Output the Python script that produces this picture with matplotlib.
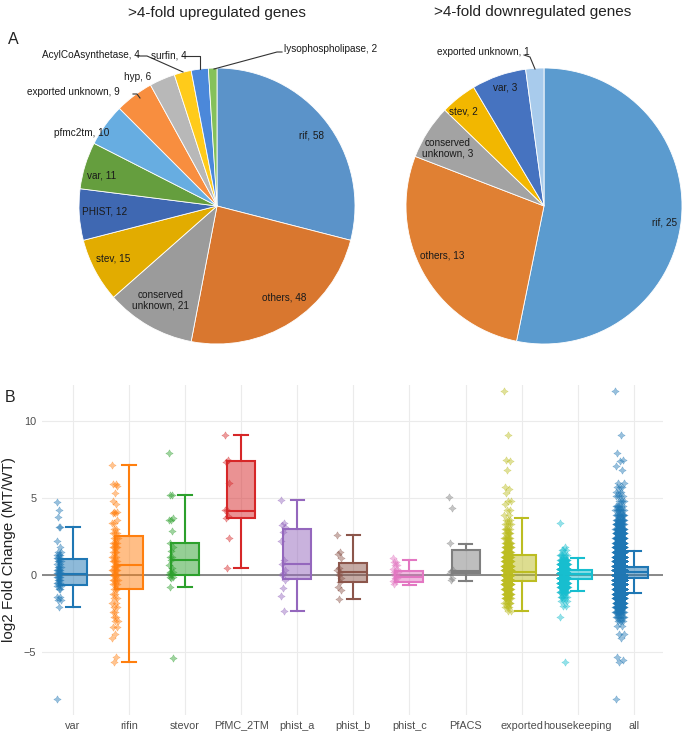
import numpy as np
import matplotlib
matplotlib.use("Agg")
import matplotlib.pyplot as plt

plt.rcParams['font.family'] = ['Liberation Sans', 'DejaVu Sans']

# ---------------- Panel A data ----------------
up_title = ">4-fold upregulated genes"
up_labels = ["rif", "others", "conserved\nunknown", "stev", "PHIST", "var", "pfmc2tm",
             "exported unknown", "hyp", "AcylCoAsynthetase", "surfin", "lysophospholipase"]
up_counts = [58, 48, 21, 15, 12, 11, 10, 9, 6, 4, 4, 2]
up_colors = ["#5B93C9", "#D9772F", "#9B9B9B", "#E2AC00", "#3F68B2", "#659E3E",
             "#67ADE1", "#F88E3F", "#B8B8B8", "#FFCB1A", "#4B88DA", "#85C15A"]

down_title = ">4-fold downregulated genes"
down_labels = ["rif", "others", "conserved\nunknown", "stev", "var", "exported unknown"]
down_counts = [25, 13, 3, 2, 3, 1]
down_colors = ["#5B9BCF", "#E08033", "#A3A3A3", "#F2B700", "#4673C0", "#A8CBEC"]

# ---------------- Panel B data ----------------
categories = ["var", "rifin", "stevor", "PfMC_2TM", "phist_a", "phist_b", "phist_c",
              "PfACS", "exported", "housekeeping", "all"]
cat_colors = ["#1f77b4", "#ff7f0e", "#2ca02c", "#d62728", "#9467bd", "#8c564b",
              "#e377c2", "#7f7f7f", "#bcbd22", "#17becf", "#1f77b4"]
box_q1 = [-0.67, -0.91, 0.0, 3.68, -0.26, -0.45, -0.45, 0.11, -0.37, -0.26, -0.17]
box_med = [0.09, 0.65, 0.97, 4.18, 0.69, 0.17, -0.11, 0.28, 0.22, 0.04, 0.17]
box_q3 = [1.04, 2.53, 2.10, 7.40, 2.99, 0.78, 0.26, 1.62, 1.32, 0.35, 0.54]
whis_lo = [-2.06, -5.63, -0.76, 0.48, -2.32, -1.56, -0.65, -0.37, -2.32, -1.06, -1.15]
whis_hi = [3.14, 7.14, 5.17, 9.07, 4.87, 2.60, 0.97, 2.03, 3.68, 1.10, 1.54]

var_levels = [4.76, 4.22, 3.74, 3.14, 2.2, 1.84, 1.5, 1.3, 1.1, 0.9, 0.7, 0.5, 0.3, 0.1,
              -0.1, -0.3, -0.5, -0.7, -0.9, -1.4, -1.6, -2.06, -8.07]
var_counts = [1, 1, 1, 2, 1, 1, 2, 3, 3, 3, 2, 3, 4, 5, 4, 3, 3, 3, 2, 2, 2, 1, 1]
rifin_levels = [7.14, 5.9, 5.8, 5.3, 4.8, 4.6, 4.1, 4.0, 3.6, 3.35, 3.0, 2.7, 2.4, 2.1,
                1.8, 1.5, 1.2, 0.9, 0.6, 0.3, 0.0, -0.3, -0.6, -0.9, -1.2, -1.5, -1.8,
                -2.1, -2.4, -2.7, -3.0, -3.35, -3.8, -4.1, -5.3, -5.63]
rifin_counts = [1, 2, 1, 1, 1, 1, 2, 2, 1, 2, 2, 3, 3, 4, 4, 3, 3, 4, 4, 5, 5, 4, 3, 3,
                2, 2, 2, 2, 2, 2, 2, 2, 1, 1, 1, 1]
stevor_levels = [7.94, 5.19, 3.68, 3.57, 2.86, 2.1, 1.84, 1.55, 1.2, 0.97, 0.65, 0.43,
                 0.2, 0.05, -0.1, -0.2, -0.76, -5.37]
stevor_counts = [1, 2, 1, 2, 1, 1, 1, 1, 2, 1, 1, 1, 2, 3, 2, 1, 1, 1]
pfmc_levels = [9.07, 7.47, 7.36, 5.95, 4.22, 3.83, 3.68, 2.38, 0.48]
pfmc_counts = [1, 1, 1, 1, 2, 1, 1, 1, 1]
phista_levels = [4.87, 3.35, 3.25, 3.14, 2.81, 2.2, 0.97, 0.69, 0.3, 0.15, 0.0, -0.32,
                 -0.87, -1.36, -2.32]
phista_counts = [1] * 15
phistb_levels = [2.6, 1.52, 1.36, 1.08, 0.43, 0.3, 0.17, 0.0, -0.2, -0.43, -0.76, -0.97, -1.56]
phistb_counts = [1] * 13
phistc_levels = [1.08, 0.87, 0.65, 0.4, 0.2, 0.0, -0.2, -0.4, -0.6]
phistc_counts = [1, 2, 2, 2, 2, 2, 2, 2, 1]
pfacs_levels = [5.04, 4.33, 2.06, 0.32, 0.25, 0.15, -0.22, -0.32]
pfacs_counts = [1] * 8
exported_levels = [11.95, 9.09, 7.45, 7.4, 6.82, 5.7, 5.6, 5.3, 4.83, 4.6, 4.22, 3.9, 3.6,
                   3.3, 3.0, 2.7, 2.4, 2.1, 1.8, 1.5, 1.2, 0.9, 0.6, 0.3, 0.0, -0.3, -0.6,
                   -0.9, -1.2, -1.5, -1.8, -2.1, -2.35]
exported_counts = [1, 1, 1, 1, 1, 1, 1, 1, 2, 1, 2, 2, 3, 4, 5, 6, 8, 10, 14, 18, 25, 35,
                   45, 55, 60, 50, 40, 25, 15, 10, 6, 4, 2]
house_levels = [3.35, 1.84, 1.6, 1.3, 1.0, 0.7, 0.4, 0.1, -0.2, -0.5, -0.8, -1.1, -1.4,
                -1.7, -2.0, -2.7, -5.63]
house_counts = [1, 1, 3, 6, 15, 40, 80, 120, 100, 60, 30, 12, 6, 3, 2, 1, 1]
all_levels = [11.95, 9.09, 7.94, 7.5, 7.4, 7.1, 6.82, 5.95, 5.7, 5.4, 5.1, 4.8, 4.5, 4.2,
              3.9, 3.6, 3.3, 3.0, 2.7, 2.4, 2.1, 1.8, 1.5, 1.2, 0.9, 0.6, 0.3, 0.0, -0.3,
              -0.6, -0.9, -1.2, -1.5, -1.8, -2.1, -2.4, -2.7, -3.0, -3.3, -3.8, -4.1, -5.3,
              -5.5, -5.63, -8.07]
all_counts = [1, 1, 1, 1, 1, 1, 1, 2, 3, 3, 4, 4, 6, 8, 10, 12, 15, 20, 25, 35, 50, 70,
              100, 150, 250, 400, 600, 700, 550, 350, 200, 120, 70, 40, 25, 15, 8, 4, 2,
              2, 1, 1, 1, 1, 1]

point_levels = [var_levels, rifin_levels, stevor_levels, pfmc_levels, phista_levels,
                phistb_levels, phistc_levels, pfacs_levels, exported_levels, house_levels,
                all_levels]
point_counts = [var_counts, rifin_counts, stevor_counts, pfmc_counts, phista_counts,
                phistb_counts, phistc_counts, pfacs_counts, exported_counts, house_counts,
                all_counts]
jitter_half = [0.04, 0.05, 0.04, 0.04, 0.04, 0.04, 0.05, 0.04, 0.06, 0.07, 0.08]

# ---------------- figure ----------------
W, H = 685, 734
fig = plt.figure(figsize=(W / 100, H / 100), dpi=100)

# Panel A: overlay axes in pixel coordinates (y up)
axA = fig.add_axes([0, 0.45, 1, 0.55])
def py(y):
    return H - y

text_col = "#1a1a1a"

def draw_pie(values, colors, center):
    axA.pie(values, colors=colors, startangle=90, counterclock=False,
            center=center, radius=138,
            wedgeprops=dict(edgecolor="white", linewidth=0.6))

draw_pie(up_counts, up_colors, (217, py(206)))
draw_pie(down_counts, down_colors, (544, py(206)))
axA.set_aspect('auto')
axA.set_xlim(0, W)
axA.set_ylim(H - 0.55 * H, H)
axA.axis('off')

axA.text(217, py(13), up_title, ha='center', va='center', fontsize=11, color="#222222")
axA.text(533, py(12), down_title, ha='center', va='center', fontsize=11, color="#222222")
axA.text(8, py(40), "A", ha='left', va='center', fontsize=11.5, color="#222222")

fs = 7.2
up_pos = [(312, 136), (284, 298), (161, 300), (113, 259), (105, 212), (102, 175),
          (82, 133), (73, 92), (138, 77), (91, 55), (169, 55), (331, 49)]
for lab, cnt, (x, y) in zip(up_labels, up_counts, up_pos):
    axA.text(x, py(y), f"{lab}, {cnt}", ha='center', va='center', fontsize=fs,
             color=text_col, linespacing=1.1)
down_pos = [(665, 223), (442, 256), (448, 148), (463, 111), (505, 88), (483, 52)]
for lab, cnt, (x, y) in zip(down_labels, down_counts, down_pos):
    axA.text(x, py(y), f"{lab}, {cnt}", ha='center', va='center', fontsize=fs,
             color=text_col, linespacing=1.1)

# leader lines
leaders = [
    [(133, 94), (137, 94), (140, 98)],
    [(137, 56), (147, 56), (183, 72)],
    [(182, 56), (200, 56), (200, 69)],
    [(282, 52), (277, 52), (214, 69)],
    [(524, 55), (530, 57), (535, 69)],
]
for pts in leaders:
    xs = [p[0] for p in pts]
    ys = [py(p[1]) for p in pts]
    axA.plot(xs, ys, color="#333333", lw=0.8)

# Panel B
axB = fig.add_axes([42 / W, (H - 715) / H, 621 / W, 330 / H])
for s in axB.spines.values():
    s.set_visible(False)
axB.set_axisbelow(True)
axB.grid(True, color="#EBEBEB", lw=0.8)
axB.axhline(0, color="#808080", lw=1.3, zorder=1.5)

stats = []
for i in range(len(categories)):
    stats.append(dict(med=box_med[i], q1=box_q1[i], q3=box_q3[i],
                      whislo=whis_lo[i], whishi=whis_hi[i], fliers=[]))
bp = axB.bxp(stats, positions=list(range(len(categories))), widths=0.5,
             patch_artist=True, showfliers=False, capwidths=0.24, manage_ticks=False)
for i, c in enumerate(cat_colors):
    bp['boxes'][i].set_facecolor(matplotlib.colors.to_rgba(c, 0.5))
    bp['boxes'][i].set_edgecolor(c)
    bp['boxes'][i].set_linewidth(1.5)
    bp['medians'][i].set_color(c)
    bp['medians'][i].set_linewidth(1.5)
    for w in bp['whiskers'][2 * i:2 * i + 2]:
        w.set_color(c); w.set_linewidth(1.5)
    for cp in bp['caps'][2 * i:2 * i + 2]:
        cp.set_color(c); cp.set_linewidth(1.5)

golden = 0.6180339887
for i, (lv, ct) in enumerate(zip(point_levels, point_counts)):
    ys = np.repeat(lv, ct)
    n = len(ys)
    offs = ((np.arange(n) * golden) % 1.0) * 2 - 1
    xs = i - 0.25 + jitter_half[i] * offs
    axB.scatter(xs, ys, s=28, marker=(4, 1, 0), color=cat_colors[i], alpha=0.45,
                linewidths=0.4, edgecolors=cat_colors[i], zorder=3)

axB.set_xlim(-0.55, 10.52)
axB.set_ylim(-9.09, 12.34)
axB.set_yticks([-5, 0, 5, 10])
axB.set_xticks(range(len(categories)))
axB.set_xticklabels(categories)
axB.tick_params(length=0, labelsize=7.8, labelcolor="#4D4D4D")
axB.tick_params(axis='y', pad=4)
axB.tick_params(axis='x', pad=4)
axB.set_ylabel("log2 Fold Change (MT/WT)", fontsize=11, color="#222222", labelpad=6)

fig.text(5 / W, 1 - 398 / H, "B", ha='left', va='center', fontsize=11.5, color="#222222")

fig.savefig("out.png", dpi=100)
